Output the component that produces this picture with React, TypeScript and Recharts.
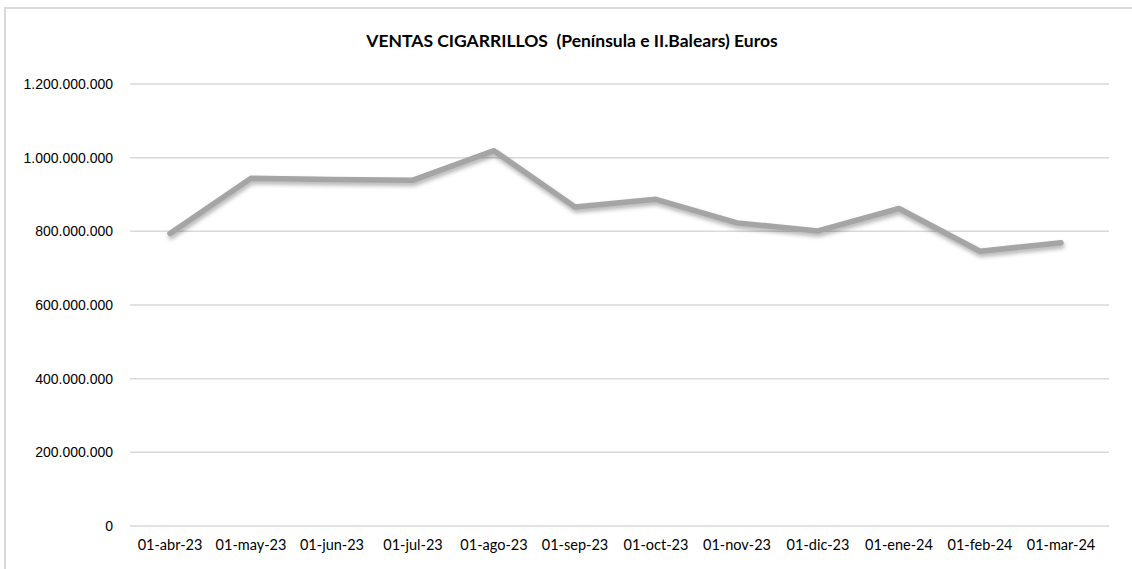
import React from 'react';
import { LineChart, Line, XAxis, YAxis, CartesianGrid } from 'recharts';

// Monthly sales, euros
const months = [
  '01-abr-23', '01-may-23', '01-jun-23', '01-jul-23', '01-ago-23', '01-sep-23',
  '01-oct-23', '01-nov-23', '01-dic-23', '01-ene-24', '01-feb-24', '01-mar-24',
];
const ventas = [
  794000000, 944000000, 941000000, 939000000, 1019000000, 866000000,
  887000000, 823000000, 801000000, 862000000, 746000000, 769000000,
];
const yTicks = [0, 200000000, 400000000, 600000000, 800000000, 1000000000, 1200000000];

const data = months.map((m, i) => ({ mes: m, ventas: ventas[i] }));

const fmt = (v: number) => (v === 0 ? '0' : v.toLocaleString('de-DE'));

const App: React.FC = () => {
  return (
    <div style={{ position: 'relative', width: 1132, height: 569, background: '#fff', overflow: 'hidden' }}>
      <style>{`body{margin:0} .recharts-line-curve{filter:drop-shadow(1px 3px 2px rgba(0,0,0,0.3))}`}</style>
      {/* chart frame */}
      <div
        style={{
          position: 'absolute', left: 4, top: 7, width: 1200, height: 600,
          borderTop: '2px solid #d9d9d9', borderLeft: '2px solid #d9d9d9',
        }}
      />
      <div
        style={{
          position: 'absolute', top: 30, left: 0, width: 1144, textAlign: 'center',
          fontFamily: 'Lato, sans-serif', fontWeight: 700, fontSize: 17.5, color: '#000',
          whiteSpace: 'pre',
        }}
      >
        {'VENTAS CIGARRILLOS  (Península e II.Balears) Euros'}
      </div>
      <div style={{ position: 'absolute', left: 0, top: 0 }}>
        <LineChart width={1132} height={569} data={data} margin={{ top: 84, right: 23, bottom: 13, left: 0 }}>
          <CartesianGrid vertical={false} stroke="#d9d9d9" strokeWidth={1.5} />
          <XAxis
            dataKey="mes"
            axisLine={false}
            tickLine={false}
            tickMargin={8}
            interval={0}
            padding={{ left: 40, right: 48 }}
            tick={{ fill: '#000', fontSize: 14.5, fontFamily: 'Lato, sans-serif' }}
          />
          <YAxis
            width={130}
            domain={[0, 1200000000]}
            ticks={yTicks}
            tickFormatter={fmt}
            axisLine={false}
            tickLine={false}
            tickMargin={11}
            tick={{ fill: '#000', fontSize: 14, fontFamily: '"Liberation Sans", Arial, sans-serif' }}
          />
          <Line
            type="linear"
            dataKey="ventas"
            stroke="#a5a5a5"
            strokeWidth={5.5}
            strokeLinecap="round"
            strokeLinejoin="round"
            dot={false}
            activeDot={false}
            isAnimationActive={false}
          />
        </LineChart>
      </div>
    </div>
  );
};

export default App;
